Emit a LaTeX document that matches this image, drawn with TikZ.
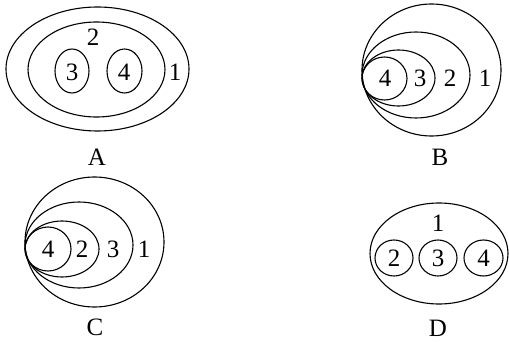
\documentclass[tikz,border=0pt]{standalone}
\usepackage{fontspec}
\setmainfont{Liberation Serif}
\begin{document}
\begin{tikzpicture}[x=1pt,y=-1pt,
  ring/.style={draw=black,line width=1.1pt},
  lbl/.style={font=\fontsize{25}{28}\selectfont,inner sep=0pt,anchor=center}]
\useasboundingbox (0,0) rectangle (509,342);
% A
\draw[ring] (97.5,69) ellipse [x radius=91.5pt,y radius=62pt];
\draw[ring] (96.5,69.5) ellipse [x radius=68.5pt,y radius=47.5pt];
\draw[ring] (72,71) ellipse [x radius=17pt,y radius=22pt];
\draw[ring] (124.5,71) ellipse [x radius=17.5pt,y radius=22pt];
\node[lbl] (a2) at (93,37) {2};
\node[lbl] (a3) at (72,72) {3};
\node[lbl] (a4) at (124,72) {4};
\node[lbl] (a1) at (175,72) {1};
\node[lbl] (la) at (97,157) {A};
% B
\draw[ring] (431.5,70) ellipse [x radius=69.5pt,y radius=66pt];
\draw[ring] (416,75) ellipse [x radius=54pt,y radius=43pt];
\draw[ring] (398.5,78) ellipse [x radius=36.5pt,y radius=28pt];
\draw[ring] (384.5,78.5) ellipse [x radius=22.5pt,y radius=21.5pt];
\node[lbl] (b4) at (385,78) {4};
\node[lbl] (b3) at (420,78) {3};
\node[lbl] (b2) at (450,78) {2};
\node[lbl] (b1) at (485,78) {1};
\node[lbl] (lb) at (440,157) {B};
% C
\draw[ring] (94.5,242) ellipse [x radius=69.5pt,y radius=65pt];
\draw[ring] (79,245) ellipse [x radius=54pt,y radius=43pt];
\draw[ring] (62,249) ellipse [x radius=37pt,y radius=28pt];
\draw[ring] (48,249) ellipse [x radius=23pt,y radius=22pt];
\node[lbl] (c4) at (48,249) {4};
\node[lbl] (c2) at (82,249) {2};
\node[lbl] (c3) at (113,249) {3};
\node[lbl] (c1) at (144,249) {1};
\node[lbl] (lc) at (95,327) {C};
% D
\draw[ring] (439,253.5) ellipse [x radius=69pt,y radius=50.5pt];
\draw[ring] (394,258) ellipse [x radius=19pt,y radius=18pt];
\draw[ring] (438,258) ellipse [x radius=19pt,y radius=18pt];
\draw[ring] (483.5,258) ellipse [x radius=19.5pt,y radius=18pt];
\node[lbl] (d1) at (438,223) {1};
\node[lbl] (d2) at (394,258) {2};
\node[lbl] (d3) at (438,258) {3};
\node[lbl] (d4) at (483.5,258) {4};
\node[lbl] (ld) at (438,328) {D};
\end{tikzpicture}
\end{document}
